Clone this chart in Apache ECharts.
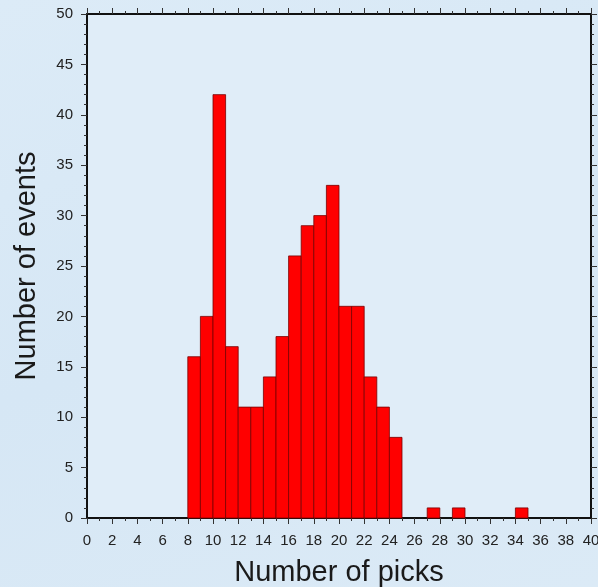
<!DOCTYPE html>
<html><head><meta charset="utf-8">
<script src="https://cdn.jsdelivr.net/npm/echarts@6/dist/echarts.min.js"></script>
<style>html,body{margin:0;padding:0;}#c{width:598px;height:587px;background:linear-gradient(160deg,#dcebf7 0%,#d6e7f5 50%,#dbeaf6 100%);}</style>
</head><body><div id="c"></div>
<script>
const binStarts = [8,9,10,11,12,13,14,15,16,17,18,19,20,21,22,23,24,25,26,27,28,29,30,31,32,33,34];
const counts    = [16,20,42,17,11,11,14,18,26,29,30,33,21,21,14,11,8,0,0,1,0,1,0,0,0,0,1];
const xTicks = [0,2,4,6,8,10,12,14,16,18,20,22,24,26,28,30,32,34,36,38,40];
const yTicks = [0,5,10,15,20,25,30,35,40,45,50];

const chart = echarts.init(document.getElementById('c'), null, {renderer:'canvas'});
const data = binStarts.map((b,i)=>[b, b+1, counts[i]]).filter(d=>d[2]>0);
const axisLine = {show:true, onZero:false, lineStyle:{color:'#111', width:2}};
const FONT = 'Liberation Sans, Arial, sans-serif';
const lbl = {color:'#222', fontSize:15, fontFamily:FONT};
const tick = {show:true, inside:false, length:6, lineStyle:{color:'#333', width:1}};
const mtick = n => ({show:true, splitNumber:n, length:3, lineStyle:{color:'#333', width:1}});
chart.setOption({
  backgroundColor:'transparent',
  grid:{left:87, right:7, top:14, bottom:69, show:true, backgroundColor:'#e0edf8', borderWidth:0,
        containLabel:false, outerBoundsMode:'none'},
  xAxis:[
    {type:'value', min:0, max:40, interval:2, position:'bottom',
     axisLine:axisLine, splitLine:{show:false}, axisTick:tick, minorTick:mtick(2),
     axisLabel:Object.assign({margin:15, formatter:v=>xTicks.includes(v)?String(v):''}, lbl),
     name:'Number of picks', nameLocation:'middle', nameGap:40,
     nameTextStyle:{color:'#1a1a1a', fontSize:29, fontFamily:FONT}},
    {type:'value', min:0, max:40, interval:2, position:'top',
     axisLine:axisLine, splitLine:{show:false}, axisLabel:{show:false},
     axisTick:tick, minorTick:mtick(2)}
  ],
  yAxis:[
    {type:'value', min:0, max:50, interval:5, position:'left',
     axisLine:axisLine, splitLine:{show:false}, axisTick:tick, minorTick:mtick(5),
     axisLabel:Object.assign({margin:14, formatter:v=>yTicks.includes(v)?String(v):''}, lbl),
     name:'Number of events', nameLocation:'middle', nameGap:46,
     nameTextStyle:{color:'#1a1a1a', fontSize:29, fontFamily:FONT}},
    {type:'value', min:0, max:50, interval:5, position:'right',
     axisLine:axisLine, splitLine:{show:false}, axisLabel:{show:false},
     axisTick:tick, minorTick:mtick(5)}
  ],
  series:[{
    type:'custom', xAxisIndex:0, yAxisIndex:0, data:data,
    renderItem:function(params, api){
      const p0 = api.coord([api.value(0), api.value(2)]);
      const p1 = api.coord([api.value(1), 0]);
      return {type:'rect', shape:{x:p0[0], y:p0[1], width:p1[0]-p0[0], height:p1[1]-p0[1]},
              style:{fill:'#ff0000', stroke:'#7a0000', lineWidth:0.8}};
    },
    encode:{x:[0,1], y:2}, z:1
  }]
});
</script></body></html>
